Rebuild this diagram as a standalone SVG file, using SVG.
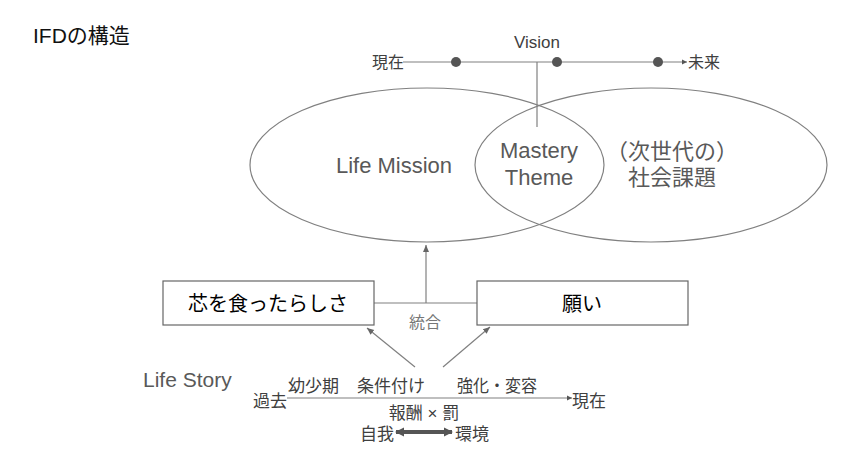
<svg xmlns="http://www.w3.org/2000/svg" width="864" height="460" viewBox="0 0 864 460">
<style>
text{font-family:"Liberation Sans","Noto Sans CJK JP",sans-serif}
.ln{stroke:#808080;stroke-width:1.2;fill:none}
.ell{stroke:#808080;stroke-width:1.2;fill:none}
.box{stroke:#666;stroke-width:1.2;fill:#fff}
.lbl{fill:#595959;font-size:22px;text-anchor:middle}
.tl{fill:#404040;font-size:16px}
.ls{fill:#404040;font-size:17px}
.bx{fill:#000;font-size:20px;text-anchor:middle}
</style>
<defs>
<marker id="ah" markerUnits="userSpaceOnUse" markerWidth="8" markerHeight="8" refX="7" refY="4" orient="auto"><path d="M0,1 L7,4 L0,7 Z" fill="#666"/></marker>
<marker id="ahs" markerUnits="userSpaceOnUse" markerWidth="6" markerHeight="6" refX="5" refY="3" orient="auto"><path d="M0,0.5 L5,3 L0,5.5 Z" fill="#555"/></marker>
<marker id="thk" markerUnits="userSpaceOnUse" markerWidth="10" markerHeight="10" refX="8" refY="5" orient="auto-start-reverse"><path d="M0,0.5 L9,5 L0,9.5 Z" fill="#555"/></marker>
</defs>
<rect width="864" height="460" fill="#fff"/>

<g id="title"><text x="33" y="43" font-size="21" fill="#111">IFDの構造</text></g>

<g id="connectors">
<line class="ln" x1="403" y1="62" x2="687" y2="62" marker-end="url(#ahs)"/>
<line class="ln" x1="537" y1="62" x2="537" y2="127"/>
<line class="ln" x1="374" y1="303" x2="477" y2="303"/>
<line class="ln" x1="426" y1="303" x2="426" y2="245" marker-end="url(#ah)"/>
<line class="ln" x1="415" y1="367" x2="367" y2="328" marker-end="url(#ah)"/>
<line class="ln" x1="443" y1="367" x2="490" y2="327" marker-end="url(#ah)"/>
<line class="ln" x1="287" y1="398" x2="572" y2="398" marker-end="url(#ahs)"/>
<line x1="396" y1="432" x2="452" y2="432" stroke="#555" stroke-width="4" marker-start="url(#thk)" marker-end="url(#thk)"/>
</g>

<g id="vision">
<text x="537" y="48" font-size="17" fill="#404040" text-anchor="middle">Vision</text>
<text class="tl" x="372" y="68">現在</text>
<text class="tl" x="688" y="68">未来</text>
<circle cx="456" cy="62" r="5" fill="#555"/>
<circle cx="557" cy="62" r="5" fill="#555"/>
<circle cx="658" cy="62" r="5" fill="#555"/>
</g>

<g id="life-mission">
<ellipse class="ell" cx="427" cy="165" rx="177" ry="77"/>
<text class="lbl" x="394" y="173">Life Mission</text>
</g>
<g id="social-issue">
<ellipse class="ell" cx="651" cy="165" rx="176" ry="77"/>
<text class="lbl" x="672" y="159">（次世代の）</text>
<text class="lbl" x="672" y="185">社会課題</text>
</g>
<g id="mastery-theme">
<text class="lbl" x="539" y="158">Mastery</text>
<text class="lbl" x="539" y="185">Theme</text>
</g>

<g id="shin">
<rect class="box" x="163" y="281" width="211" height="44"/>
<text class="bx" x="268" y="311">芯を食ったらしさ</text>
</g>
<g id="negai">
<rect class="box" x="477" y="281" width="211" height="44"/>
<text class="bx" x="582" y="311">願い</text>
</g>
<g id="togo"><text x="425" y="328" font-size="16" fill="#777" text-anchor="middle">統合</text></g>

<g id="life-story">
<text x="143" y="387" font-size="21" fill="#595959">Life Story</text>
<text class="ls" x="253" y="407">過去</text>
<text class="ls" x="572" y="407">現在</text>
<text class="ls" x="288" y="392">幼少期</text>
<text class="ls" x="357" y="392">条件付け</text>
<text class="ls" x="457" y="392" textLength="80" lengthAdjust="spacingAndGlyphs">強化・変容</text>
<text class="ls" x="424" y="419" text-anchor="middle">報酬 × 罰</text>
<text class="ls" x="360" y="440">自我</text>
<text class="ls" x="455" y="440">環境</text>
</g>
</svg>
